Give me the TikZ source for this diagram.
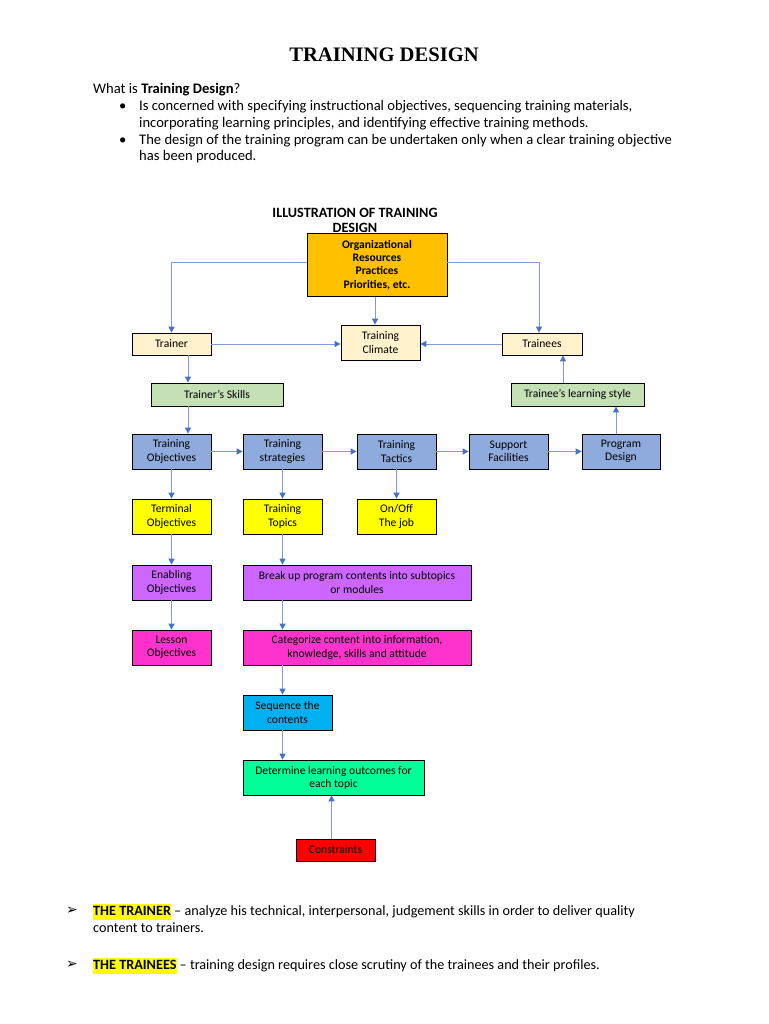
\documentclass[tikz,border=0pt]{standalone}
\usepackage{fontspec}
\setmainfont{Carlito}
\newfontfamily\titlefont{Liberation Serif}
\newfontfamily\dejavu{DejaVu Sans}
\usetikzlibrary{arrows.meta}
\definecolor{cOrange}{HTML}{FFC000}
\definecolor{cCream}{HTML}{FFF2CC}
\definecolor{cLGreen}{HTML}{C5E0B4}
\definecolor{cBlue}{HTML}{8FAADC}
\definecolor{cYellow}{HTML}{FFFF00}
\definecolor{cPurple}{HTML}{CC66FF}
\definecolor{cMagenta}{HTML}{FF33CC}
\definecolor{cCyan}{HTML}{00B0F0}
\definecolor{cGreen}{HTML}{00FF99}
\definecolor{cRed}{HTML}{FF0000}
\definecolor{lineblue}{HTML}{7F9CD6}
\definecolor{headblue}{HTML}{4472C4}
\definecolor{hl}{HTML}{FFFF00}
\setlength\fboxsep{0pt}
\begin{document}
\begin{tikzpicture}[x=1pt,y=-1pt,
  box/.style={draw=black,line width=0.8pt,inner sep=0pt,align=center,
    font=\fontsize{11.6}{13.2}\selectfont},
  arr/.style={draw=lineblue,line width=1pt,-{Triangle[width=6pt,length=6pt,color=headblue]}},
  body/.style={anchor=mid west,inner sep=0pt,font=\fontsize{14.6}{16.8}\selectfont},
  note/.style={anchor=mid west,inner sep=0pt,font=\fontsize{14.2}{16.8}\selectfont},
  arrowbullet/.style={anchor=mid west,inner sep=0pt,font=\dejavu\fontsize{14}{16.8}\selectfont},
]
\useasboundingbox[fill=white] (0,0) rectangle (768,1024);

% title and intro
\node[inner sep=0pt,font=\titlefont\bfseries\fontsize{20.6}{24}\selectfont] (title) at (384,55) {TRAINING DESIGN};
\node[body] (q) at (93,91) {What is \textbf{Training Design}?};
\node[body] (b1) at (119,108) {•};
\node[body] (l1) at (139,108) {Is concerned with specifying instructional objectives, sequencing training materials,};
\node[body] (l2) at (139,125) {incorporating learning principles, and identifying effective training methods.};
\node[body] (b2) at (119,142) {•};
\node[body] (l3) at (139,142) {The design of the training program can be undertaken only when a clear training objective};
\node[body] (l4) at (139,158) {has been produced.};

% diagram heading
\node[inner sep=0pt,align=center,font=\bfseries\fontsize{14.2}{15}\selectfont] (ill) at (355,220) {ILLUSTRATION OF TRAINING\\DESIGN};

% boxes
\node[box,fill=cOrange,minimum width=140pt,minimum height=63pt,font=\bfseries\fontsize{11.6}{13.2}\selectfont] (org) at (377,265) {Organizational\\Resources\\Practices\\Priorities, etc.};
\node[box,fill=cCream,minimum width=79pt,minimum height=22pt] (trainer) at (171.5,344) {Trainer};
\node[box,fill=cCream,minimum width=79pt,minimum height=35pt] (climate) at (380.5,342.5) {Training\\Climate};
\node[box,fill=cCream,minimum width=80pt,minimum height=22pt] (trainees) at (542,344) {Trainees};
\node[box,fill=cLGreen,minimum width=132pt,minimum height=23pt] (skills) at (217,394.5) {Trainer’s Skills};
\node[box,fill=cLGreen,minimum width=133pt,minimum height=23pt] (style) at (577.5,394.5) {Trainee’s learning style};

\node[box,fill=cBlue,minimum width=79pt,minimum height=35pt] (tobj) at (171.5,451.5) {Training\\Objectives};
\node[box,fill=cBlue,minimum width=79pt,minimum height=35pt] (strat) at (282.5,451.5) {Training\\strategies};
\node[box,fill=cBlue,minimum width=79pt,minimum height=35pt] (tact) at (396.5,451.5) {Training\\Tactics};
\node[box,fill=cBlue,minimum width=79pt,minimum height=35pt] (supp) at (508.5,451.5) {Support\\Facilities};
\node[box,fill=cBlue,minimum width=78pt,minimum height=35pt] (pd) at (621,451.5) {Program\\Design};

\node[box,fill=cYellow,minimum width=79pt,minimum height=35pt] (term) at (171.5,516.5) {Terminal\\Objectives};
\node[box,fill=cYellow,minimum width=79pt,minimum height=35pt] (topics) at (282.5,516.5) {Training\\Topics};
\node[box,fill=cYellow,minimum width=79pt,minimum height=35pt] (onoff) at (396.5,516.5) {On/Off\\The job};

\node[box,fill=cPurple,minimum width=79pt,minimum height=35pt] (enab) at (171.5,582.5) {Enabling\\Objectives};
\node[box,fill=cPurple,minimum width=228pt,minimum height=35pt] (brk) at (357,582.5) {Break up program contents into subtopics\\or modules};
\node[box,fill=cMagenta,minimum width=79pt,minimum height=35pt] (lesson) at (171.5,647.5) {Lesson\\Objectives};
\node[box,fill=cMagenta,minimum width=228pt,minimum height=35pt] (cat) at (357,647.5) {Categorize content into information,\\knowledge, skills and attitude};
\node[box,fill=cCyan,minimum width=89pt,minimum height=35pt] (seq) at (287.5,712.5) {Sequence the\\contents};
\node[box,fill=cGreen,minimum width=181pt,minimum height=35pt] (det) at (333.5,777.5) {Determine learning outcomes for\\each topic};
\node[box,fill=cRed,minimum width=79pt,minimum height=22pt] (cons) at (335.5,850) {Constraints};

% connectors
\draw[arr] ([yshift=3pt]org.west) -| (trainer.north);
\coordinate (tn) at ([xshift=-3pt]trainees.north);
\draw[arr] ([yshift=3pt]org.east) -| (tn);
\coordinate (on) at ([xshift=-2pt]org.south);
\draw[arr] (on) -- (on |- climate.north);
\draw[arr] (trainer.east) -- (trainer.east -| climate.west);
\draw[arr] (trainees.west) -- (trainees.west -| climate.east);
\coordinate (ts) at ([xshift=16.5pt]trainer.south);
\draw[arr] (ts) -- (ts |- skills.north);
\draw[arr] (ts |- skills.south) -- (ts |- tobj.north);
\coordinate (te) at ([xshift=21pt]trainees.south);
\draw[arr] (te |- style.north) -- (te);
\coordinate (pn) at ([xshift=-5pt]pd.north);
\draw[arr] (pn) -- (pn |- style.south);
\draw[arr] (tobj) -- (strat);
\draw[arr] (strat) -- (tact);
\draw[arr] (tact) -- (supp);
\draw[arr] (supp) -- (pd);
\draw[arr] (tobj) -- (term);
\draw[arr] (term) -- (enab);
\draw[arr] (enab) -- (lesson);
\draw[arr] (strat) -- (topics);
\draw[arr] (tact) -- (onoff);
\draw[arr] (topics.south) -- (topics.south |- brk.north);
\draw[arr] (topics.south |- brk.south) -- (topics.south |- cat.north);
\draw[arr] (topics.south |- cat.south) -- (topics.south |- seq.north);
\draw[arr] (topics.south |- seq.south) -- (topics.south |- det.north);
\coordinate (cn) at ([xshift=-4pt]cons.north);
\draw[arr] (cn) -- (cn |- det.south);

% bottom notes
\node[arrowbullet] (a1) at (66,912) {➢};
\node[note] (n1) at (93,913) {\colorbox{hl}{\strut\textbf{THE TRAINER}} – analyze his technical, interpersonal, judgement skills in order to deliver quality};
\node[note] (n2) at (93,930) {content to trainers.};
\node[arrowbullet] (a2) at (66,966) {➢};
\node[note] (n3) at (93,967) {\colorbox{hl}{\strut\textbf{THE TRAINEES}} – training design requires close scrutiny of the trainees and their profiles.};
\end{tikzpicture}
\end{document}
